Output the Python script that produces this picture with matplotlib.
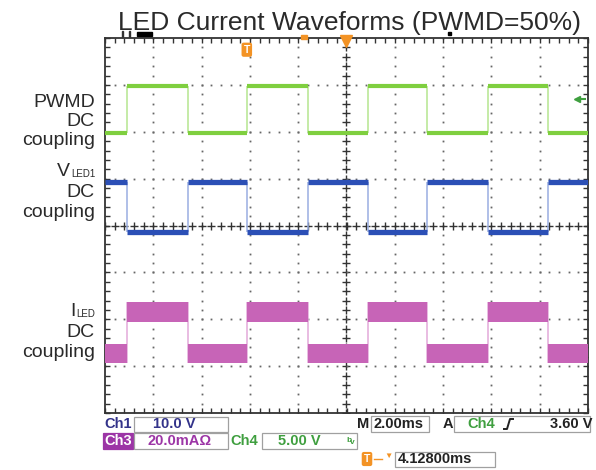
import numpy as np
import matplotlib.pyplot as plt
from matplotlib.patches import Rectangle
from matplotlib.transforms import Affine2D

plt.rcParams["font.family"] = ["Liberation Sans", "DejaVu Sans"]

W, H = 596, 470

# screen: 10 x 8 divisions, 2 ms/div, time in ms from screen centre
MS_PER_DIV = 2.0
X_HALF_DIV, Y_HALF_DIV = 5, 4

# PWMD (Ch4) edges
PWMD_RISE_MS = [-9.1, -4.1, 0.9, 5.85]
PWMD_FALL_MS = [-6.55, -1.6, 3.35, 8.35]

# trace levels, divisions from centre: (while PWMD low, while PWMD high)
PWMD_LEVELS = (1.97, 2.97)
VLED_LEVELS = (0.92, -0.13)
ILED_LEVELS = (-2.73, -1.84)
ILED_BAND = 0.42

TRIG_POS_MS = -4.128
TRIG_LEVEL_V = 3.60
CH4_V_PER_DIV = 5.0

TITLE = "LED Current Waveforms (PWMD=50%)"
LABEL_LINES = [
    [("PWMD", ""), ("DC", ""), ("coupling", "")],
    [("V", "LED1"), ("DC", ""), ("coupling", "")],
    [("I", "LED"), ("DC", ""), ("coupling", "")],
]
LABEL_BASELINES = [(107, 126, 145), (176, 197, 217), (316, 337, 357)]

CH1_SCALE = "10.0 V"
CH3_SCALE = "20.0mA\u03a9"
CH4_SCALE = "5.00 V"
TIMEBASE = "2.00ms"
TRIG_SRC = "Ch4"
TRIG_LEVEL = "3.60 V"
TRIG_POS = "4.12800ms"

GREEN, GREEN_EDGE = "#7fcf3f", "#b5e690"
BLUE, BLUE_EDGE = "#2b4fb6", "#9aaee2"
PINK, PINK_EDGE = "#c764b7", "#e3aada"
ORANGE = "#f39325"
NAVY = "#33338a"
PURPLE = "#9c35a6"
TXT_GREEN = "#3f9f3f"
TXT = "#2a2a2a"


def segments(rise, fall, lo, hi, t0, t1):
    edges = sorted([(t, 1) for t in rise] + [(t, 0) for t in fall])
    state = 0 if edges[0][1] == 1 else 1
    segs, start = [], t0
    for t, s in edges:
        segs.append((start, t, hi if state else lo))
        start, state = t, s
    segs.append((start, t1, hi if state else lo))
    return segs


def main():
    fig = plt.figure(figsize=(W / 100, H / 100), dpi=100)
    px = Affine2D().scale(1.0 / W, -1.0 / H).translate(0, 1) + fig.transFigure
    ax = fig.add_axes([105 / W, 1 - 413 / H, 483 / W, 375 / H])
    tmax = X_HALF_DIV * MS_PER_DIV
    ax.set_xlim(-tmax, tmax)
    ax.set_ylim(-Y_HALF_DIV, Y_HALF_DIV)
    ax.set_facecolor("white")
    for sp in ax.spines.values():
        sp.set_color("#333333")
        sp.set_linewidth(1.3)
    ax.set_xticks(np.arange(-tmax, tmax + 0.01, MS_PER_DIV / 5))
    ax.set_yticks(np.arange(-Y_HALF_DIV, Y_HALF_DIV + 0.01, 0.2))
    ax.tick_params(direction="in", length=3.5, width=1, color="#333333",
                   top=True, right=True, labelbottom=False, labelleft=False)

    # graticule
    ydots = np.arange(-Y_HALF_DIV, Y_HALF_DIV + 0.01, 0.2)
    xdots = np.arange(-tmax, tmax + 0.01, MS_PER_DIV / 5)
    for k in range(-X_HALF_DIV + 1, X_HALF_DIV):
        x = k * MS_PER_DIV
        if k == 0:
            ax.plot(np.full_like(ydots, x), ydots, ls="none", marker="+", ms=6,
                    mew=1, color="#333333", zorder=1)
        else:
            ax.plot(np.full_like(ydots, x), ydots, ls="none", marker="s", ms=1.3,
                    mew=0, color="#666666", zorder=1)
    for k in range(-Y_HALF_DIV + 1, Y_HALF_DIV):
        if k == 0:
            ax.plot(xdots, np.zeros_like(xdots), ls="none", marker="+", ms=6,
                    mew=1, color="#333333", zorder=1)
        else:
            ax.plot(xdots, np.full_like(xdots, k), ls="none", marker="s", ms=1.3,
                    mew=0, color="#666666", zorder=1)

    # traces
    for levels, col, edge_col, lw in [(PWMD_LEVELS, GREEN, GREEN_EDGE, 3.0),
                                      (VLED_LEVELS, BLUE, BLUE_EDGE, 3.8)]:
        segs = segments(PWMD_RISE_MS, PWMD_FALL_MS, levels[0], levels[1], -tmax, tmax)
        for (a, b, y), nxt in zip(segs, segs[1:] + [None]):
            ax.hlines(y, a, b, color=col, lw=lw, zorder=3)
            if nxt is not None:
                ax.vlines(b, min(y, nxt[2]), max(y, nxt[2]), color=edge_col, lw=1.1, zorder=2)
    segs = segments(PWMD_RISE_MS, PWMD_FALL_MS, ILED_LEVELS[0], ILED_LEVELS[1], -tmax, tmax)
    for (a, b, y), nxt in zip(segs, segs[1:] + [None]):
        ax.fill_between([a, b], y - ILED_BAND / 2, y + ILED_BAND / 2, color=PINK,
                        lw=0, zorder=3)
        if nxt is not None:
            ax.vlines(b, min(y, nxt[2]) - ILED_BAND / 2, max(y, nxt[2]) + ILED_BAND / 2,
                      color=PINK_EDGE, lw=1.1, zorder=2)

    # markers: trigger position, centre, trigger level
    ax.plot(0, Y_HALF_DIV - 0.06, marker="v", ms=8, color=ORANGE, clip_on=False, zorder=5)
    ax.text(TRIG_POS_MS, Y_HALF_DIV - 0.25, "T", color="white", fontsize=7.5,
            fontweight="bold", ha="center", va="center", zorder=5,
            bbox=dict(boxstyle="round,pad=0.2", fc=ORANGE, ec="none"))
    lvl = PWMD_LEVELS[0] + TRIG_LEVEL_V / CH4_V_PER_DIV
    ax.plot(9.55, lvl, marker="<", ms=5, color=TXT_GREEN, zorder=5)
    ax.hlines(lvl, 9.55, 9.9, color=TXT_GREEN, lw=1.5, zorder=5)

    # bits above the screen
    fig.add_artist(Rectangle((137, 32), 15, 4, transform=px, color="black"))
    for x in (122, 129):
        fig.add_artist(Rectangle((x, 31), 1.2, 6, transform=px, color="#333333"))
    fig.add_artist(Rectangle((301, 35), 6, 4, transform=px, color=ORANGE))
    fig.add_artist(Rectangle((448, 32), 3, 3, transform=px, color="black"))

    fig.text(349, 30, TITLE, transform=px, fontsize=19, color=TXT, ha="center",
             va="baseline")

    # channel labels
    renderer = fig.canvas.get_renderer()
    for lines, bases in zip(LABEL_LINES, LABEL_BASELINES):
        for (main_txt, sub), yb in zip(lines, bases):
            xr = 95
            if sub:
                t = fig.text(xr, yb + 1, sub, transform=px, fontsize=7, color=TXT,
                             ha="right", va="baseline")
                xr -= t.get_window_extent(renderer).width + 0.5
            fig.text(xr, yb, main_txt, transform=px, fontsize=14, color=TXT,
                     ha="right", va="baseline")

    # readout area
    def box(x0, y0, x1, y1, fc="none", ec="#a0a0a0"):
        fig.add_artist(Rectangle((x0, y0), x1 - x0, y1 - y0, transform=px, fc=fc,
                                 ec=ec, lw=0.9))

    def txt(x, y, s, col, **kw):
        kw.setdefault("fontsize", 10.5)
        kw.setdefault("fontweight", "bold")
        fig.text(x, y, s, transform=px, color=col, ha="left", va="center", **kw)

    r1, r2, r3 = 424, 441, 459
    txt(104, r1, "Ch1", NAVY)
    box(134, 417, 228, 432)
    txt(153, r1, CH1_SCALE, NAVY)
    txt(357, r1, "M", "#222222")
    box(371, 416, 429, 432)
    txt(374, r1, TIMEBASE, "#222222")
    txt(443, r1, "A", "#222222")
    box(454, 416, 590, 432)
    txt(467, r1, TRIG_SRC, TXT_GREEN)
    fig.add_artist(plt.Line2D([504, 507, 510, 513], [429, 429, 419, 419], transform=px,
                              color="#222222", lw=1.4))
    txt(550, r1, TRIG_LEVEL, "#222222")

    box(103, 433, 133, 449, fc=PURPLE, ec=PURPLE)
    txt(104, r2, "Ch3", "white")
    box(134, 433, 228, 449)
    txt(147, r2, CH3_SCALE, PURPLE)
    txt(230, r2, "Ch4", TXT_GREEN)
    box(262, 433, 357, 449)
    txt(278, r2, CH4_SCALE, TXT_GREEN)
    txt(346, r2 - 1, "b", TXT_GREEN, fontsize=6)
    txt(350, r2 + 2, "v", TXT_GREEN, fontsize=6)

    fig.text(367, r3, "T", transform=px, color="white", fontsize=7.5, fontweight="bold",
             ha="center", va="center",
             bbox=dict(boxstyle="round,pad=0.2", fc=ORANGE, ec="none"))
    fig.add_artist(plt.Line2D([374, 382], [r3, r3], transform=px, color=ORANGE, lw=1))
    fig.text(388, r3 - 3, "\u25bc", transform=px, color=ORANGE, fontsize=6,
             ha="center", va="center")
    box(395, 452, 495, 467)
    txt(398, r3, TRIG_POS, "#222222")

    fig.savefig("out.png", dpi=100)
    plt.close(fig)


if __name__ == "__main__":
    main()
